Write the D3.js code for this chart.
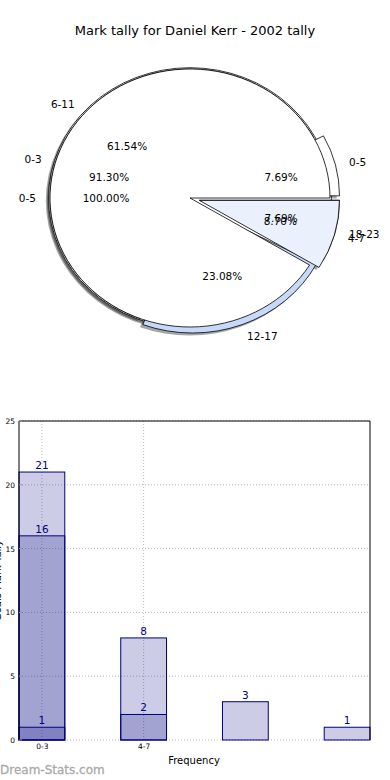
<!DOCTYPE html>
<html><head><meta charset="utf-8">
<script src="https://cdn.jsdelivr.net/npm/d3@7"></script>
<style>body{margin:0;background:#fff}svg{display:block;font-family:"DejaVu Sans",sans-serif}</style>
</head><body><svg id="c" width="390" height="780"></svg>
<script>
// ---- data ----
const title = "Mark tally for Daniel Kerr - 2002 tally";
const pieALabels = ["0-5", "6-11", "12-17", "18-23"];
const pieAValues = [1, 8, 3, 1];
const pieBLabels = ["0-3", "4-7"];
const pieBValues = [21, 2];
const pieCLabels = ["0-5"];
const pieCValues = [16];
const barCategories = ["0-3", "4-7", "", ""];
const tickLabels = ["0-3", "4-7"];
const series1 = [21, 8, 3, 1];
const series2 = [16, 2, null, null];
const series3 = [1, null, null, null];
const yTicks = [0, 5, 10, 15, 20, 25];

// ---- styles ----
const pieAExplode = [0.07, 0, 0.05, 0.07];
const pieBExplode = [0, 0.07];
const pieCExplode = [0];
const pieAFill = ["#ffffff", "#ffffff", "#c6d9f8", "#eaf1fd"];
const pieBFill = ["#ffffff", "#eaf1fd"];
const pieCFill = ["#ffffff"];

const svg = d3.select("#c");
svg.append("text").attr("x", 195).attr("y", 35).attr("text-anchor", "middle")
  .attr("font-size", 13).text(title);

// ---- pies (elliptical, matplotlib-like, counterclockwise from 3 o'clock) ----
const cx = 190, cy = 198, rx = 140, ry = 129, R = 100;
const pieGen = d3.pie().sort(null).value(d => d).startAngle(Math.PI / 2).endAngle(Math.PI / 2 - 2 * Math.PI);
const arcGen = d3.arc().innerRadius(0).outerRadius(R);
const pies = [
  {labels: pieCLabels, values: pieCValues, explode: pieCExplode, fill: pieCFill, dr: 1.01},
  {labels: pieALabels, values: pieAValues, explode: pieAExplode, fill: pieAFill, dr: 1},
  {labels: pieBLabels, values: pieBValues, explode: pieBExplode, fill: pieBFill, dr: 1}
];
const pieG = svg.append("g");
const shadowLayer = pieG.append("g");
const wedgeLayer = pieG.append("g");
const textLayer = svg.append("g").attr("font-size", 10.5).attr("fill", "#000");
pies.forEach(p => {
  const arcs = pieGen(p.values);
  const total = d3.sum(p.values);
  arcs.forEach((a, i) => {
    const mid = (a.startAngle + a.endAngle) / 2;
    const ux = Math.sin(mid), uy = -Math.cos(mid);
    const e = p.explode[i];
    const tx = cx + e * rx * ux, ty = cy + e * ry * uy;
    const sx = rx / R * p.dr, sy = ry / R * p.dr;
    shadowLayer.append("path")
      .attr("transform", `translate(${tx - 0.02 * rx},${ty + 0.02 * ry}) scale(${sx},${sy})`)
      .attr("d", arcGen(a)).attr("fill", "#4d4d4d").attr("fill-opacity", 0.5);
    wedgeLayer.append("path")
      .attr("transform", `translate(${tx},${ty}) scale(${sx},${sy})`)
      .attr("d", arcGen(a)).attr("fill", p.fill[i]).attr("stroke", "#000")
      .attr("stroke-width", 0.8).attr("vector-effect", "non-scaling-stroke");
    const lx = cx + (e + 1.1) * rx * ux, ly = cy + (e + 1.1) * ry * uy;
    textLayer.append("text").attr("x", lx).attr("y", ly).attr("dy", "0.35em")
      .attr("text-anchor", ux > 0 ? "start" : "end").text(p.labels[i]);
    const px = cx + (e + 0.6) * rx * ux, py = cy + (e + 0.6) * ry * uy;
    textLayer.append("text").attr("x", px).attr("y", py).attr("dy", "0.35em")
      .attr("text-anchor", "middle").text((100 * p.values[i] / total).toFixed(2) + "%");
  });
});

// ---- bar chart ----
const L = 19, Rt = 370, T = 421, B = 740;
const barW = 0.45;
const x = d3.scaleLinear().domain([-barW / 2, barCategories.length - 1 + barW / 2]).range([L, Rt]);
const y = d3.scaleLinear().domain([0, 25]).range([B, T]);
const bg = svg.append("g");
// grid
bg.append("g").selectAll("line").data(yTicks).join("line")
  .attr("x1", L).attr("x2", Rt).attr("y1", d => y(d)).attr("y2", d => y(d))
  .attr("stroke", "#bbb").attr("stroke-width", 1).attr("stroke-dasharray", "1,2");
bg.append("g").selectAll("line").data(tickLabels).join("line")
  .attr("x1", (d, i) => x(i)).attr("x2", (d, i) => x(i)).attr("y1", T).attr("y2", B)
  .attr("stroke", "#bbb").attr("stroke-width", 1).attr("stroke-dasharray", "1,2");
// bars
[series1, series2, series3].forEach(s => {
  s.forEach((v, i) => {
    if (v == null) return;
    bg.append("rect").attr("x", x(i - barW / 2)).attr("width", x(barW) - x(0))
      .attr("y", y(v)).attr("height", y(0) - y(v))
      .attr("fill", "navy").attr("fill-opacity", 0.2).attr("stroke", "navy").attr("stroke-width", 1);
  });
});
[series1, series2, series3].forEach(s => {
  s.forEach((v, i) => {
    if (v == null) return;
    bg.append("text").attr("x", x(i)).attr("y", y(v) - 3).attr("text-anchor", "middle")
      .attr("font-size", 10.5).attr("fill", "navy").text(v);
  });
});
// frame
bg.append("path").attr("d", `M${L},${B}V${T}H${Rt}V${B}`).attr("fill", "none").attr("stroke", "#000").attr("stroke-width", 1);
// y axis ticks & labels
const yAx = d3.axisLeft(y).tickValues(yTicks).tickSize(0).tickPadding(4);
const yg = bg.append("g").attr("transform", `translate(${L},0)`).call(yAx);
yg.select(".domain").remove();
yg.selectAll("text").attr("font-size", 7.5).attr("font-family", "DejaVu Sans").attr("fill", "#000");
bg.append("g").selectAll("line").data(yTicks).join("line")
  .attr("x1", L).attr("x2", L + 3).attr("y1", d => y(d)).attr("y2", d => y(d)).attr("stroke", "#999");
// x tick labels
const xAx = d3.axisBottom(x).tickValues(d3.range(tickLabels.length)).tickFormat(i => tickLabels[i]).tickSize(0).tickPadding(4);
const xg = bg.append("g").attr("transform", `translate(0,${B})`).call(xAx);
xg.select(".domain").remove();
xg.selectAll("text").attr("font-size", 7.5).attr("font-family", "DejaVu Sans").attr("fill", "#000");
bg.append("text").attr("x", 194).attr("y", 764).attr("text-anchor", "middle").attr("font-size", 10).text("Frequency");
bg.append("text").attr("transform", `translate(1,${(T + B) / 2}) rotate(-90)`).attr("text-anchor", "middle")
  .attr("font-size", 10).text("Goals Mark Tally");
svg.append("text").attr("x", 0).attr("y", 774).attr("font-size", 12)
  .attr("fill", "#aaaaaa").attr("stroke", "#aaaaaa").attr("stroke-width", 0.3).text("Dream-Stats.com");
</script></body></html>
